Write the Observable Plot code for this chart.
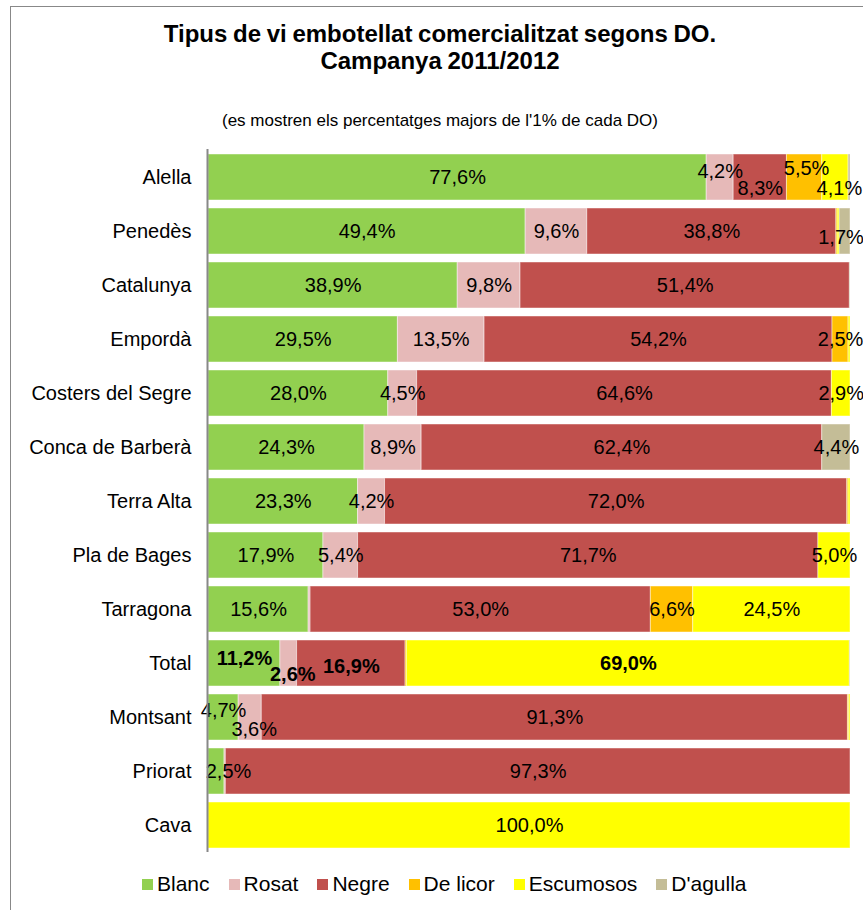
<!DOCTYPE html>
<html>
<head>
<meta charset="utf-8">
<script src="https://cdn.jsdelivr.net/npm/d3@7"></script>
<script src="https://cdn.jsdelivr.net/npm/@observablehq/plot@0.6"></script>
<style>
  html, body { margin: 0; padding: 0; background: #fff; overflow: hidden; }
  body { width: 863px; height: 910px; position: relative; font-family: "Liberation Sans", Arial, sans-serif; color: #000; }
  #frame { position: absolute; left: 10px; top: 6px; width: 900px; height: 950px; border: 1.5px solid #888; box-sizing: border-box; }
  #title { position: absolute; left: 0; top: 20px; width: 880px; text-align: center; font-weight: bold; font-size: 24px; line-height: 27px; word-spacing: -1px; }
  #subtitle { position: absolute; left: 0; top: 111px; width: 880px; text-align: center; font-size: 17px; }
  #chart { position: absolute; left: 0; top: 140px; }
  #legend { position: absolute; left: 142px; top: 872px; display: flex; align-items: center; font-size: 21px; white-space: nowrap; }
  #legend .item { display: flex; align-items: center; margin-right: 19px; }
  #legend .sw { width: 11px; height: 11px; margin-right: 4px; }
</style>
</head>
<body>
<div id="frame"></div>
<div id="title">Tipus de vi embotellat comercialitzat segons DO.<br>Campanya 2011/2012</div>
<div id="subtitle">(es mostren els percentatges majors de l'1% de cada DO)</div>
<div id="chart"></div>
<div id="legend"></div>
<script>
// ---- Data ----
const categories = ["Alella","Penedès","Catalunya","Empordà","Costers del Segre","Conca de Barberà","Terra Alta","Pla de Bages","Tarragona","Total","Montsant","Priorat","Cava"];
const series = ["Blanc","Rosat","Negre","De licor","Escumosos","D'agulla"];
const blanc     = [77.6, 49.4, 38.9, 29.5, 28.0, 24.3, 23.3, 17.9, 15.6, 11.2,  4.7,  2.5,   0];
const rosat     = [ 4.2,  9.6,  9.8, 13.5,  4.5,  8.9,  4.2,  5.4,  0.3,  2.6,  3.6,  0.2,   0];
const negre     = [ 8.3, 38.8, 51.4, 54.2, 64.6, 62.4, 72.0, 71.7, 53.0, 16.9, 91.3, 97.3,   0];
const deLicor   = [ 5.5,  0.2,  0,    2.5,  0,    0,    0.2,  0,    6.6,  0.2,  0.2,  0,     0];
const escumosos = [ 4.1,  0.3,  0,    0.3,  2.9,  0,    0.3,  5.0, 24.5, 69.0,  0.2,  0,   100];
const dagulla   = [ 0.3,  1.7,  0.1,  0,    0,    4.4,  0,    0,    0,    0.1,  0,    0,     0];

// ---- Styling ----
const colors = ["#92D050","#E6B9B8","#C0504D","#FFC000","#FFFF00","#C4BD97"];
const labelNudges = {
  "Alella|Rosat": [0, -6], "Alella|Negre": [0, 11], "Alella|De licor": [2, -9], "Alella|Escumosos": [4, 11],
  "Penedès|D'agulla": [-4, 6],
  "Total|Blanc": [0, -5], "Total|Rosat": [4, 11], "Total|Negre": [0, 3],
  "Montsant|Blanc": [0, -7], "Montsant|Rosat": [4, 12],
  "Priorat|Blanc": [12, 0]
};
const boldCategories = ["Total"];

const seriesValues = [blanc, rosat, negre, deLicor, escumosos, dagulla];
const rows = [];
categories.forEach((c, i) => {
  series.forEach((s, j) => {
    rows.push({cat: c, tipus: s, v: seriesValues[j][i]});
  });
});

const fmt = v => v.toFixed(1).replace(".", ",") + "%";
const nudgeOf = d => labelNudges[d.cat + "|" + d.tipus] || [0, 0];
const boldOf = d => boldCategories.includes(d.cat);

// group labels by (dx, dy, bold)
const groups = new Map();
for (const d of rows) {
  if (!(d.v > 1)) continue;
  const [dx, dy] = nudgeOf(d);
  const key = dx + "," + dy + "," + boldOf(d);
  if (!groups.has(key)) groups.set(key, {dx, dy, bold: boldOf(d)});
}

const textMarks = [...groups.values()].map(g =>
  Plot.text(rows, Plot.stackX({
    x: "v", y: "cat", z: "tipus", offset: "normalize",
    text: d => {
      if (!(d.v > 1)) return null;
      const [dx, dy] = nudgeOf(d);
      return (dx === g.dx && dy === g.dy && boldOf(d) === g.bold) ? fmt(d.v) : null;
    },
    dx: g.dx, dy: g.dy,
    fill: "#000", fontSize: 20, fontWeight: g.bold ? "bold" : "normal"
  }))
);

const plot = Plot.plot({
  width: 863,
  height: 712,
  marginTop: 9,
  marginBottom: 0,
  marginLeft: 208,
  marginRight: 13,
  style: {fontFamily: "'Liberation Sans', Arial, sans-serif", fontSize: "20px", color: "#000", background: "transparent", overflow: "visible"},
  x: {domain: [0, 1], axis: null},
  y: {domain: categories, paddingInner: 0.15, paddingOuter: 0.075, label: null},
  color: {domain: series, range: colors},
  marks: [
    Plot.barX(rows, Plot.stackX({
      x: "v", y: "cat", z: "tipus", offset: "normalize",
      fill: "tipus", stroke: "#fff", strokeOpacity: 0.45, strokeWidth: 1
    })),
    ...textMarks,
    Plot.axisY({tickSize: 0, tickPadding: 17, fontSize: 20, label: null}),
    Plot.ruleX([0], {stroke: "#888", strokeWidth: 2, dx: -1})
  ]
});
document.getElementById("chart").appendChild(plot);

// legend
const legend = document.getElementById("legend");
series.forEach((s, i) => {
  const it = document.createElement("div");
  it.className = "item";
  const sw = document.createElement("div");
  sw.className = "sw";
  sw.style.background = colors[i];
  const tx = document.createElement("span");
  tx.textContent = s;
  it.appendChild(sw); it.appendChild(tx);
  legend.appendChild(it);
});
</script>
</body>
</html>
